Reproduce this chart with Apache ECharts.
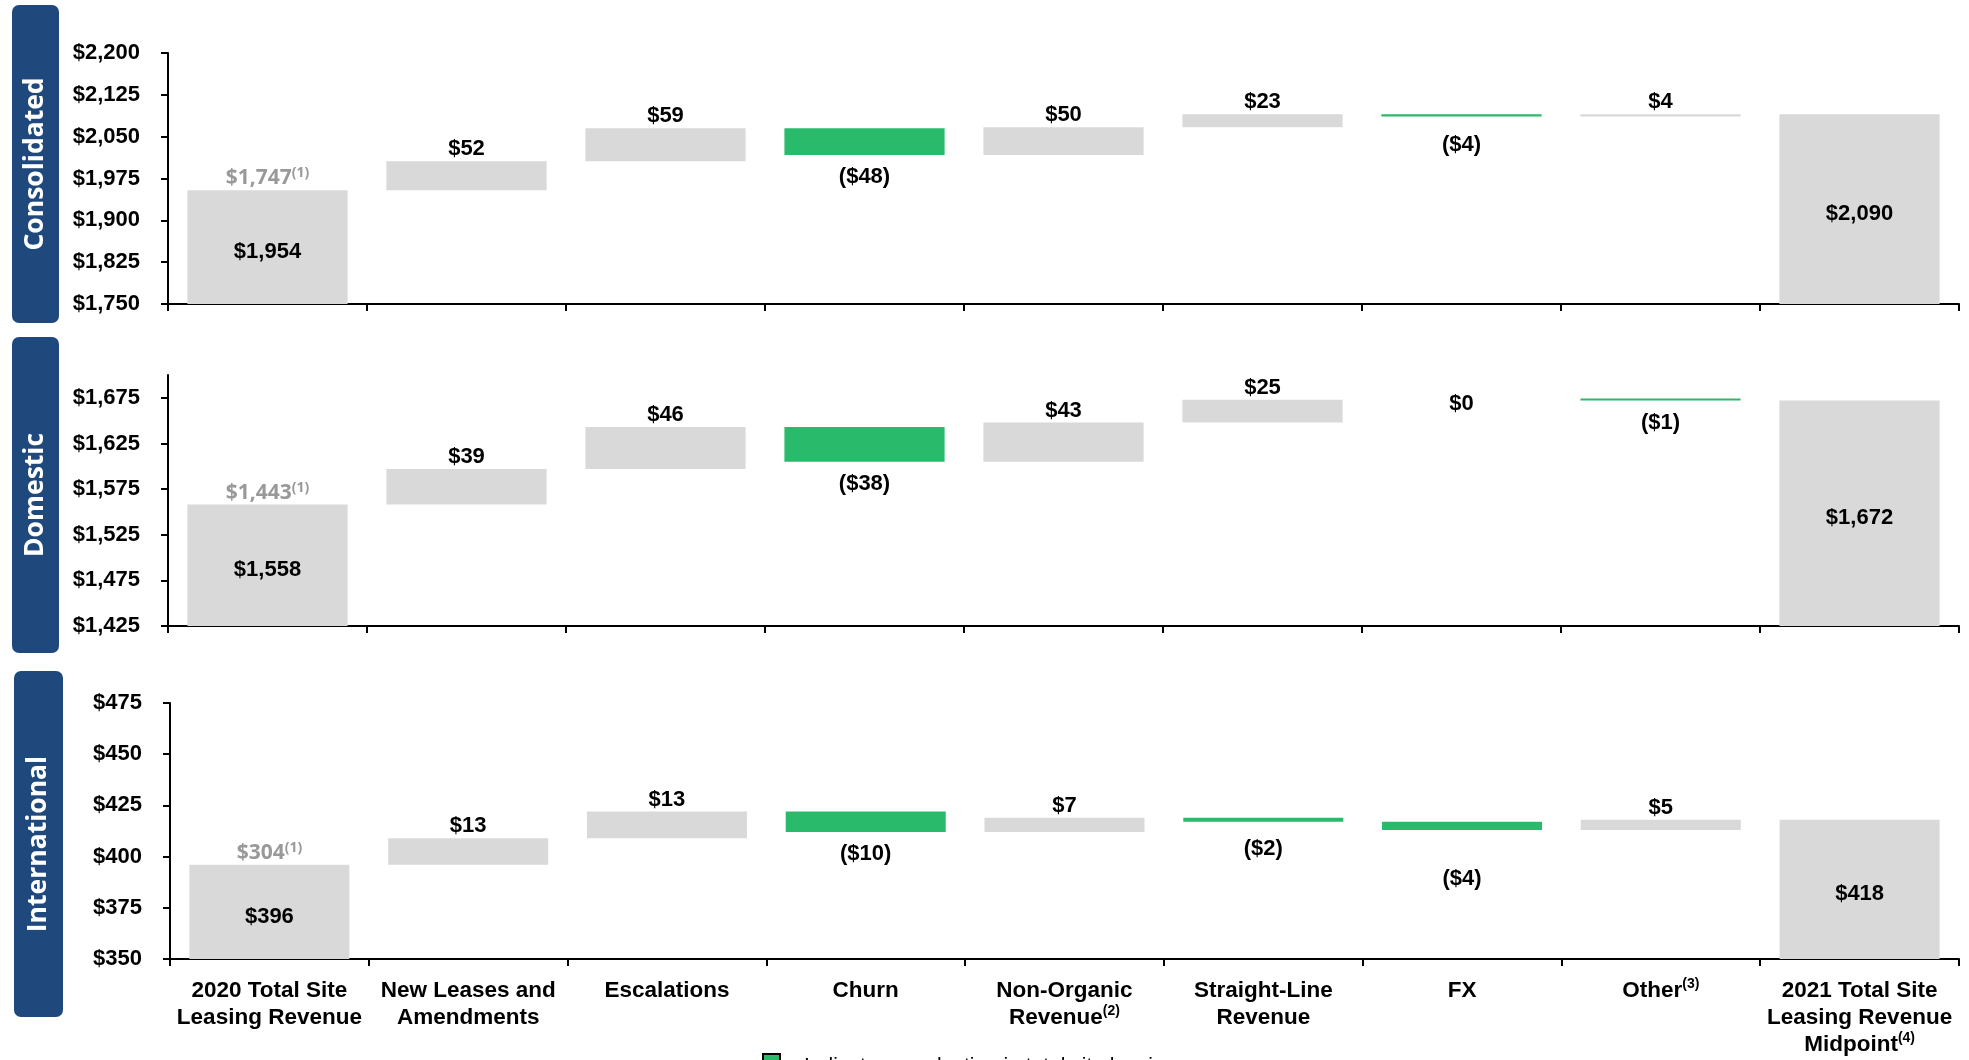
<!DOCTYPE html>
<html>
<head>
<meta charset="utf-8">
<title>Site leasing revenue bridge</title>
<script src="https://cdn.jsdelivr.net/npm/echarts@6/dist/echarts.min.js"></script>
<style>
  html, body { margin: 0; padding: 0; background: #fff; }
  #chart { width: 1969px; height: 1060px; }
</style>
</head>
<body>
<div id="chart"></div>
<script>
// categories of the bridge (footnote marks kept apart)
var categories = ['2020 Total Site\nLeasing Revenue', 'New Leases and\nAmendments', 'Escalations', 'Churn',
  'Non-Organic\nRevenue', 'Straight-Line\nRevenue', 'FX', 'Other', '2021 Total Site\nLeasing Revenue\nMidpoint']
var footnotes = ['', '', '', '', '(2)', '', '', '(3)', '(4)']

// first and last value are totals, the rest are changes
var consolidated = [1954, 52, 59, -48, 50, 23, -4, 4, 2090]
var domestic = [1558, 39, 46, -38, 43, 25, 0, -1, 1672]
var international = [396, 13, 13, -10, 7, -2, -4, 5, 418]
var priorYear = [1747, 1443, 304]

var panelNames = ['Consolidated', 'Domestic', 'International']
var yMin = [1750, 1425, 350]
var yMax = [2200, 1700, 475]
var yStep = [75, 50, 25]

var GRAY = '#D9D9D9'
var GREEN = '#29BA6B'
var NAVY = '#1F497D'
var FONT = 'Liberation Sans, Arial, sans-serif'

// a few reduction labels sit further below their thin bars in the original
var downLabelGap = { '0-6': 17, '2-5': 16, '2-6': 38 }

var panels = [consolidated, domestic, international]
var grids = [
  { left: 168, right: 10, top: 53, height: 251 },
  { left: 168, right: 10, top: 375, height: 251 },
  { left: 170, right: 10, top: 703, height: 256 }
]

function money(v) {
  var s = '$' + Math.abs(v).toLocaleString('en-US')
  return v < 0 ? '(' + s + ')' : s
}

// invisible base + visible piece for each column
function waterfall(vals, min) {
  var base = [], bar = [], run = 0
  vals.forEach(function (v, i) {
    if (i === 0 || i === vals.length - 1) {
      base.push(min)
      bar.push(v - min)
      run = v
    } else {
      base.push(v < 0 ? run + v : run)
      bar.push(Math.abs(v))
      run += v
    }
  })
  return { base: base, bar: bar }
}

function categoryLabel(value, index) {
  var lines = value.split('\n').map(function (l) { return '{c|' + l + '}' })
  if (footnotes[index]) lines[lines.length - 1] += '{s|' + footnotes[index] + '}'
  return lines.join('\n')
}

var xAxis = [], yAxis = [], series = []

panels.forEach(function (vals, p) {
  var wf = waterfall(vals, yMin[p])
  var last = vals.length - 1

  xAxis.push({
    type: 'category',
    gridIndex: p,
    data: categories,
    axisLine: { lineStyle: { color: '#000', width: 2 } },
    axisTick: { show: true, alignWithLabel: false, length: 7, lineStyle: { color: '#000', width: 2 } },
    axisLabel: {
      show: p === 2,
      interval: 0,
      margin: 18,
      formatter: categoryLabel,
      rich: {
        c: { fontFamily: FONT, fontWeight: 'bold', fontSize: 22.5, color: '#000', lineHeight: 27 },
        s: { fontFamily: FONT, fontWeight: 'bold', fontSize: 14, color: '#000', lineHeight: 27, verticalAlign: 'top', padding: [0, 0, 6, 0] }
      }
    }
  })

  yAxis.push({
    type: 'value',
    gridIndex: p,
    min: yMin[p],
    max: yMax[p],
    interval: yStep[p],
    splitLine: { show: false },
    axisLine: { show: true, lineStyle: { color: '#000', width: 2 } },
    axisTick: { show: true, length: 7, lineStyle: { color: '#000', width: 2 } },
    axisLabel: {
      showMaxLabel: p !== 1,
      margin: 28,
      fontFamily: FONT,
      fontWeight: 'bold',
      fontSize: 22,
      color: '#000',
      formatter: function (v) { return money(v) }
    }
  })

  series.push({
    name: 'base' + p,
    type: 'bar',
    stack: 'wf' + p,
    xAxisIndex: p,
    yAxisIndex: p,
    barCategoryGap: '19.5%',
    silent: true,
    itemStyle: { color: 'transparent' },
    data: wf.base
  })

  series.push({
    name: panelNames[p],
    type: 'bar',
    stack: 'wf' + p,
    xAxisIndex: p,
    yAxisIndex: p,
    barCategoryGap: '19.5%',
    barMinHeight: 2,
    data: wf.bar.map(function (h, i) {
      var v = vals[i]
      var total = i === 0 || i === last
      var color = total || v > 0 ? GRAY : (v < 0 ? GREEN : 'transparent')
      var label
      if (total || v === 0) label = { position: 'inside', offset: [0, 5] }
      else if (v > 0) label = { position: 'top', distance: 1 }
      else label = { position: 'bottom', distance: downLabelGap[p + '-' + i] || 11 }
      return { value: h, itemStyle: { color: color }, label: label }
    }),
    label: {
      show: true,
      fontFamily: FONT,
      fontWeight: 'bold',
      fontSize: 22,
      color: '#000',
      formatter: function (params) { return money(vals[params.dataIndex]) }
    }
  })

  // prior-year note on top of the first column
  series.push({
    name: 'note' + p,
    type: 'bar',
    stack: 'wf' + p,
    xAxisIndex: p,
    yAxisIndex: p,
    silent: true,
    itemStyle: { color: 'transparent' },
    data: vals.map(function (v, i) { return i === 0 ? 0 : '-' }),
    label: {
      show: true,
      position: 'top',
      distance: 0,
      formatter: function () { return '{g|' + money(priorYear[p]) + '}{gs|(1)}' },
      rich: {
        g: { fontFamily: 'Open Sans', fontWeight: 'bold', fontSize: 21, color: '#999', lineHeight: 24 },
        gs: { fontFamily: 'Open Sans', fontWeight: 'bold', fontSize: 14, color: '#999', lineHeight: 24, verticalAlign: 'top' }
      }
    }
  })
})

var boxes = [
  { x: 12, y: 5, w: 47, h: 318 },
  { x: 12, y: 337, w: 47, h: 316 },
  { x: 14, y: 671, w: 49, h: 346 }
]
var graphic = []
boxes.forEach(function (b, i) {
  graphic.push({
    type: 'rect',
    shape: { x: b.x, y: b.y, width: b.w, height: b.h, r: 7 },
    style: { fill: NAVY }
  })
  graphic.push({
    type: 'text',
    x: b.x + b.w / 2,
    y: b.y + b.h / 2,
    rotation: Math.PI / 2,
    style: {
      text: panelNames[i],
      fill: '#fff',
      font: 'bold 26.5px "Open Sans"',
      textAlign: 'center',
      textVerticalAlign: 'middle'
    }
  })
})
graphic.push({
  type: 'rect',
  shape: { x: 763, y: 1054, width: 17, height: 17 },
  style: { fill: GREEN, stroke: '#000', lineWidth: 2 }
})
graphic.push({
  type: 'text',
  x: 804,
  y: 1066,
  style: {
    text: 'Indicates a reduction in total site leasing revenue',
    fill: '#000',
    font: '21px "Liberation Sans"',
    textVerticalAlign: 'middle'
  }
})

var chart = echarts.init(document.getElementById('chart'))
chart.setOption({
  backgroundColor: '#fff',
  animation: false,
  grid: grids,
  xAxis: xAxis,
  yAxis: yAxis,
  series: series,
  graphic: graphic
})
</script>
</body>
</html>
